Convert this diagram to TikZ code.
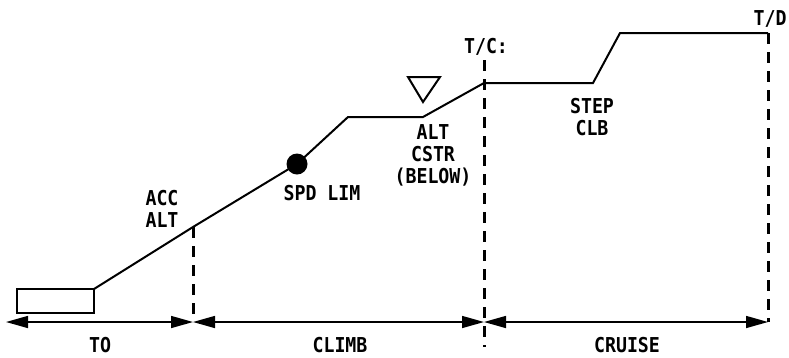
\documentclass[tikz,border=0pt]{standalone}
\usepackage{fontspec}
\setmainfont{DejaVu Sans Mono}[FakeStretch=0.89]
\usetikzlibrary{arrows.meta}

\begin{document}
\begin{tikzpicture}[x=1pt, y=-1pt, line width=2pt,
  lbl/.style={font=\bfseries\fontsize{20.5}{22}\selectfont, align=center, inner sep=0pt},
  phase/.style={{Triangle[length=22pt,width=12pt]}-{Triangle[length=22pt,width=12pt]}, line width=1.5pt},
  marker/.style={dash pattern=on 11pt off 8pt, line width=3pt}]

\useasboundingbox (0,0) rectangle (789,357);

%profile points
  \coordinate (P0) at (94,289);
  \coordinate (P1) at (193,227);
  \coordinate (P2) at (297,164);
  \coordinate (P3) at (348,117);
  \coordinate (P4) at (423,117);
  \coordinate (P5) at (484,83);
  \coordinate (P6) at (593,83);
  \coordinate (P7) at (620,33);
  \coordinate (P8) at (768,33);
  \coordinate (R0) at (17,313);

%phase axis
  \coordinate (A0) at (6,322);
  \coordinate (A1) at (193,322);
  \coordinate (A2) at (484,322);
  \coordinate (A3) at (768,322);
  \coordinate (TCtop) at (484,60);
  \coordinate (TCbot) at (484,347);

%runway
  \draw[line width=2.2pt] (R0) rectangle (P0);

%flight path
  \draw (P0) -- (P1) -- (P2) -- (P3) -- (P4) -- (P5) -- (P6) -- (P7) -- (P8);

%speed limit and constraint
  \fill (P2) circle (10.5pt);
  \draw (408,77) -- (440,77) -- (423,102) -- cycle;

%dashed markers
  \draw[marker] (P1) -- (A1);
  \draw[marker] (TCtop) -- (TCbot);
  \draw[marker] (P8) -- (A3);

%phase arrows
  \foreach \i in {0,1,2}{
    \pgfmathtruncatemacro{\inext}{\i+1}
    \draw[phase] (A\i) -- (A\inext);
  }

%labels
  \node[lbl] (acc)   at (162,208.5) {ACC\\ALT};
  \node[lbl] (spd)   at (322,193)   {SPD LIM};
  \node[lbl] (cstr)  at (433,155)   {ALT\\CSTR\\(BELOW)};
  \node[lbl] (tc)    at (486,47)    {T/C:};
  \node[lbl] (step)  at (592,117.5) {STEP\\CLB};
  \node[lbl] (td)    at (770,19)    {T/D};
  \node[lbl] (to)    at (100,345)   {TO};
  \node[lbl] (climb) at (340,345)   {CLIMB};
  \node[lbl] (cruise) at (627,345)  {CRUISE};
\end{tikzpicture}
\end{document}
